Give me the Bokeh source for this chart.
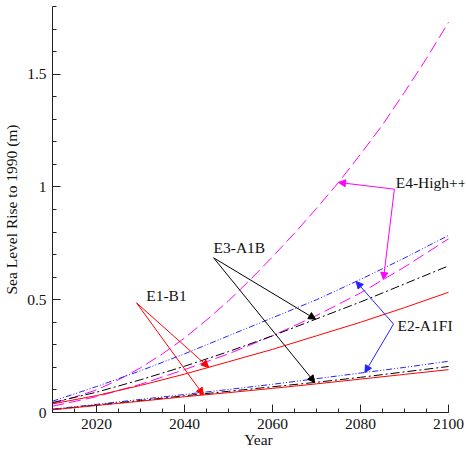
import numpy as np
from bokeh.plotting import figure
from bokeh.models import (Range1d, SingleIntervalTicker, CustomJSTickFormatter,
                          Arrow, NormalHead, Label, ColumnDataSource)
from bokeh.embed import file_html
from bokeh.resources import INLINE

years = [2010, 2020, 2030, 2040, 2050, 2060, 2070, 2080, 2090, 2100]
years_fine = [2010, 2015, 2020, 2025, 2030, 2035, 2040, 2045, 2050, 2055,
              2060, 2065, 2070, 2075, 2080, 2085, 2090, 2095, 2100]

# upper estimates
e1_b1_high = [0.038, 0.075, 0.12, 0.17, 0.225, 0.28, 0.34, 0.40, 0.465, 0.533]
e2_a1fi_high = [0.05, 0.115, 0.185, 0.26, 0.34, 0.42, 0.50, 0.59, 0.685, 0.785]
e3_a1b_high = [0.044, 0.09, 0.145, 0.205, 0.27, 0.34, 0.415, 0.49, 0.57, 0.65]
e4_high_low = [0.028, 0.07, 0.125, 0.19, 0.26, 0.34, 0.43, 0.53, 0.645, 0.77]
e4_high_up = [0.04, 0.068, 0.10, 0.145, 0.198, 0.26, 0.33, 0.41, 0.495, 0.59,
              0.69, 0.795, 0.905, 1.02, 1.145, 1.275, 1.42, 1.57, 1.73]
# lower estimates
e1_b1_low = [0.012, 0.031, 0.05, 0.07, 0.088, 0.107, 0.127, 0.148, 0.169, 0.19]
e3_a1b_low = [0.013, 0.033, 0.053, 0.074, 0.094, 0.114, 0.134, 0.156, 0.18, 0.204]
e2_a1fi_low = [0.015, 0.036, 0.058, 0.08, 0.102, 0.125, 0.15, 0.175, 0.2, 0.227]

RED = "#ff0000"
BLUE = "#2222ff"
BLACK = "#000000"
MAG = "#ff00ff"
FONT = "Liberation Serif"
FS = "15.5px"

p = figure(width=466, height=450, output_backend="svg", toolbar_location=None,
           x_range=Range1d(2010, 2103.63), y_range=Range1d(0, 1.8),
           min_border_left=51, min_border_right=2, min_border_top=6,
           min_border_bottom=38)
p.outline_line_color = None
p.grid.visible = False
p.background_fill_color = "white"
p.border_fill_color = "white"

styles = [
    (years_fine, e4_high_up, MAG, "12 5"),
    (years, e2_a1fi_high, BLUE, "6 2 1 2 1 2"),
    (years, e4_high_low, MAG, "12 5"),
    (years, e3_a1b_high, BLACK, "9 3 2 3"),
    (years, e1_b1_high, RED, "solid"),
    (years, e2_a1fi_low, BLUE, "6 2 1 2 1 2"),
    (years, e3_a1b_low, BLACK, "9 3 2 3"),
    (years, e1_b1_low, RED, "solid"),
]
for xs, vals, col, dash in styles:
    src = ColumnDataSource(dict(x=xs, y=vals))
    p.line("x", "y", source=src, line_color=col, line_dash=dash, line_width=1)

# axes
p.xaxis.ticker = SingleIntervalTicker(interval=20, num_minor_ticks=4)
p.yaxis.ticker = SingleIntervalTicker(interval=0.5, num_minor_ticks=5)
p.yaxis.formatter = CustomJSTickFormatter(code="return String(Math.round(tick*10)/10);")
p.xaxis.bounds = (2010, 2100)
for ax in (p.xaxis[0], p.yaxis[0]):
    ax.major_tick_in = 8
    ax.major_tick_out = 0
    ax.minor_tick_in = 4
    ax.minor_tick_out = 0
    ax.axis_line_color = "#222222"
    ax.major_tick_line_color = "#222222"
    ax.minor_tick_line_color = "#222222"
    ax.major_label_text_font = FONT
    ax.major_label_text_font_size = FS
    ax.major_label_text_color = "#111111"
    ax.axis_label_text_font = FONT
    ax.axis_label_text_font_size = FS
    ax.axis_label_text_font_style = "normal"
    ax.axis_label_text_color = "#111111"
p.xaxis.axis_label = "Year"
p.yaxis.axis_label = "Sea Level Rise to 1990 (m)"
p.xaxis.major_label_standoff = 6
p.xaxis.axis_label_standoff = -1
p.yaxis.major_label_standoff = 6
p.yaxis.axis_label_standoff = 4


def at(xs, series, yr):
    return float(np.interp(yr, xs, series))


def arrow(x0, y0, x1, y1, col):
    p.add_layout(Arrow(end=NormalHead(size=7, fill_color=col, line_color=col, line_width=1),
                       x_start=x0, y_start=y0, x_end=x1, y_end=y1,
                       line_color=col, line_width=1))


def label(x, y, txt):
    p.add_layout(Label(x=x, y=y, text=txt, text_font=FONT, text_font_size=FS,
                       text_color="#111111", text_baseline="middle", text_align="left"))


# E1-B1
arrow(2029.1, 0.486, 2045.5, at(years, e1_b1_high, 2045.5), RED)
arrow(2029.1, 0.486, 2044.3, at(years, e1_b1_low, 2044.3), RED)
label(2031.3, 0.52, "E1-B1")

# E3-A1B
arrow(2046.6, 0.686, 2069.8, at(years, e3_a1b_high, 2069.8), BLACK)
arrow(2046.6, 0.686, 2069.6, at(years, e3_a1b_low, 2069.6), BLACK)
label(2046.6, 0.73, "E3-A1B")

# E4-High++
arrow(2087.7, 0.99, 2075.0, at(years_fine, e4_high_up, 2075.0), MAG)
arrow(2087.7, 0.99, 2085.2, at(years, e4_high_low, 2085.2), MAG)
label(2088.0, 1.02, "E4-High++")

# E2-A1FI
arrow(2087.5, 0.392, 2079.0, at(years, e2_a1fi_high, 2079.0), BLUE)
arrow(2087.5, 0.392, 2081.0, at(years, e2_a1fi_low, 2081.0), BLUE)
label(2088.4, 0.384, "E2-A1FI")

open("out.html", "w").write(file_html(p, INLINE))
